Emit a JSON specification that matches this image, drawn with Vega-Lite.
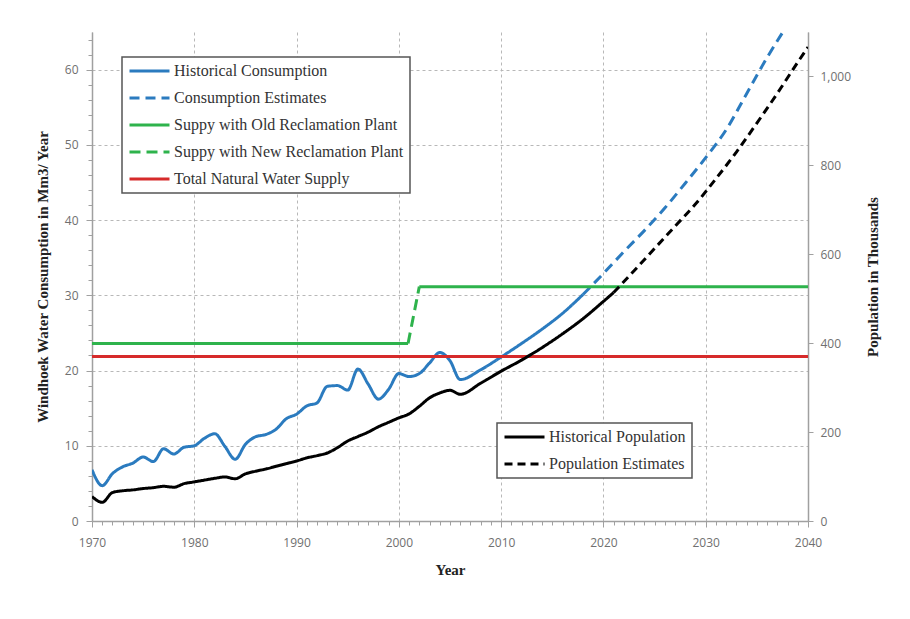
{
  "$schema": "https://vega.github.io/schema/vega-lite/v6.json",
  "autosize": {"type": "none"},
  "padding": {"left": 92, "top": 32, "right": 102, "bottom": 98},
  "width": 716,
  "height": 489,
  "background": "white",
  "config": {
    "view": {"stroke": null},
    "axis": {
      "labelFont": "Open Sans", "labelFontSize": 12, "labelColor": "#707070",
      "titleFont": "Liberation Serif", "titleFontSize": 15, "titleFontWeight": "bold", "titleColor": "#222222",
      "domainColor": "#a0a0a0", "domainWidth": 1.5, "tickColor": "#a0a0a0", "tickSize": 5,
      "gridColor": "#b8b8b8", "gridDash": [3, 3], "gridWidth": 1,
      "labelOverlap": false, "labelBound": false, "labelFlush": false
    },
    "legend": {
      "labelFont": "Liberation Serif", "labelFontSize": 16, "labelColor": "#333333", "labelLimit": 400,
      "symbolType": "stroke", "symbolSize": 1600, "symbolStrokeWidth": 3, "clipHeight": 16,
      "fillColor": "white", "strokeColor": "#555555", "strokeWidth": 1.5, "padding": 6,
      "rowPadding": 11, "labelOffset": 3, "orient": "none"
    }
  },
  "datasets": {
    "cons": [
      {"year": 1970, "value": 6.8, "series": "Historical Consumption", "seg": "h"},
      {"year": 1971, "value": 4.7, "series": "Historical Consumption", "seg": "h"},
      {"year": 1972, "value": 6.3, "series": "Historical Consumption", "seg": "h"},
      {"year": 1973, "value": 7.2, "series": "Historical Consumption", "seg": "h"},
      {"year": 1974, "value": 7.7, "series": "Historical Consumption", "seg": "h"},
      {"year": 1975, "value": 8.5, "series": "Historical Consumption", "seg": "h"},
      {"year": 1976, "value": 7.9, "series": "Historical Consumption", "seg": "h"},
      {"year": 1977, "value": 9.6, "series": "Historical Consumption", "seg": "h"},
      {"year": 1978, "value": 8.9, "series": "Historical Consumption", "seg": "h"},
      {"year": 1979, "value": 9.8, "series": "Historical Consumption", "seg": "h"},
      {"year": 1980, "value": 10.0, "series": "Historical Consumption", "seg": "h"},
      {"year": 1981, "value": 11.0, "series": "Historical Consumption", "seg": "h"},
      {"year": 1982, "value": 11.6, "series": "Historical Consumption", "seg": "h"},
      {"year": 1983, "value": 9.9, "series": "Historical Consumption", "seg": "h"},
      {"year": 1984, "value": 8.2, "series": "Historical Consumption", "seg": "h"},
      {"year": 1985, "value": 10.2, "series": "Historical Consumption", "seg": "h"},
      {"year": 1986, "value": 11.2, "series": "Historical Consumption", "seg": "h"},
      {"year": 1987, "value": 11.5, "series": "Historical Consumption", "seg": "h"},
      {"year": 1988, "value": 12.2, "series": "Historical Consumption", "seg": "h"},
      {"year": 1989, "value": 13.6, "series": "Historical Consumption", "seg": "h"},
      {"year": 1990, "value": 14.2, "series": "Historical Consumption", "seg": "h"},
      {"year": 1991, "value": 15.3, "series": "Historical Consumption", "seg": "h"},
      {"year": 1992, "value": 15.7, "series": "Historical Consumption", "seg": "h"},
      {"year": 1993, "value": 17.9, "series": "Historical Consumption", "seg": "h"},
      {"year": 1994, "value": 18.0, "series": "Historical Consumption", "seg": "h"},
      {"year": 1995, "value": 17.4, "series": "Historical Consumption", "seg": "h"},
      {"year": 1996, "value": 20.2, "series": "Historical Consumption", "seg": "h"},
      {"year": 1997, "value": 18.2, "series": "Historical Consumption", "seg": "h"},
      {"year": 1998, "value": 16.2, "series": "Historical Consumption", "seg": "h"},
      {"year": 1999, "value": 17.5, "series": "Historical Consumption", "seg": "h"},
      {"year": 2000, "value": 19.6, "series": "Historical Consumption", "seg": "h"},
      {"year": 2001, "value": 19.2, "series": "Historical Consumption", "seg": "h"},
      {"year": 2002, "value": 19.6, "series": "Historical Consumption", "seg": "h"},
      {"year": 2003, "value": 21.0, "series": "Historical Consumption", "seg": "h"},
      {"year": 2004, "value": 22.4, "series": "Historical Consumption", "seg": "h"},
      {"year": 2005, "value": 21.3, "series": "Historical Consumption", "seg": "h"},
      {"year": 2006, "value": 18.8, "series": "Historical Consumption", "seg": "h"},
      {"year": 2008, "value": 20.1, "series": "Historical Consumption", "seg": "h"},
      {"year": 2010, "value": 21.8, "series": "Historical Consumption", "seg": "h"},
      {"year": 2012, "value": 23.6, "series": "Historical Consumption", "seg": "h"},
      {"year": 2014, "value": 25.5, "series": "Historical Consumption", "seg": "h"},
      {"year": 2016, "value": 27.6, "series": "Historical Consumption", "seg": "h"},
      {"year": 2018, "value": 30.1, "series": "Historical Consumption", "seg": "h"},
      {"year": 2018, "value": 30.1, "series": "Consumption Estimates", "seg": "e"},
      {"year": 2020, "value": 32.9, "series": "Consumption Estimates", "seg": "e"},
      {"year": 2022, "value": 35.8, "series": "Consumption Estimates", "seg": "e"},
      {"year": 2024, "value": 38.6, "series": "Consumption Estimates", "seg": "e"},
      {"year": 2026, "value": 41.6, "series": "Consumption Estimates", "seg": "e"},
      {"year": 2028, "value": 44.9, "series": "Consumption Estimates", "seg": "e"},
      {"year": 2030, "value": 48.3, "series": "Consumption Estimates", "seg": "e"},
      {"year": 2032, "value": 52.0, "series": "Consumption Estimates", "seg": "e"},
      {"year": 2034, "value": 56.8, "series": "Consumption Estimates", "seg": "e"},
      {"year": 2036, "value": 61.6, "series": "Consumption Estimates", "seg": "e"},
      {"year": 2037.5, "value": 64.9, "series": "Consumption Estimates", "seg": "e"},
      {"year": 1970, "value": 23.6, "series": "Suppy with Old Reclamation Plant", "seg": "a"},
      {"year": 2000.9, "value": 23.6, "series": "Suppy with Old Reclamation Plant", "seg": "a"},
      {"year": 2002, "value": 31.15, "series": "Suppy with Old Reclamation Plant", "seg": "b"},
      {"year": 2040, "value": 31.15, "series": "Suppy with Old Reclamation Plant", "seg": "b"},
      {"year": 2000.9, "value": 23.6, "series": "Suppy with New Reclamation Plant", "seg": "n"},
      {"year": 2002, "value": 31.15, "series": "Suppy with New Reclamation Plant", "seg": "n"},
      {"year": 1970, "value": 21.85, "series": "Total Natural Water Supply", "seg": "t"},
      {"year": 2040, "value": 21.85, "series": "Total Natural Water Supply", "seg": "t"}
    ],
    "pop": [
      {"year": 1970, "pop": 55, "pseries": "Historical Population"},
      {"year": 1971, "pop": 42, "pseries": "Historical Population"},
      {"year": 1972, "pop": 64, "pseries": "Historical Population"},
      {"year": 1973, "pop": 68, "pseries": "Historical Population"},
      {"year": 1974, "pop": 70, "pseries": "Historical Population"},
      {"year": 1975, "pop": 73, "pseries": "Historical Population"},
      {"year": 1976, "pop": 75, "pseries": "Historical Population"},
      {"year": 1977, "pop": 78, "pseries": "Historical Population"},
      {"year": 1978, "pop": 76, "pseries": "Historical Population"},
      {"year": 1979, "pop": 84, "pseries": "Historical Population"},
      {"year": 1980, "pop": 88, "pseries": "Historical Population"},
      {"year": 1981, "pop": 92, "pseries": "Historical Population"},
      {"year": 1982, "pop": 96, "pseries": "Historical Population"},
      {"year": 1983, "pop": 99, "pseries": "Historical Population"},
      {"year": 1984, "pop": 95, "pseries": "Historical Population"},
      {"year": 1985, "pop": 106, "pseries": "Historical Population"},
      {"year": 1986, "pop": 112, "pseries": "Historical Population"},
      {"year": 1987, "pop": 117, "pseries": "Historical Population"},
      {"year": 1988, "pop": 123, "pseries": "Historical Population"},
      {"year": 1989, "pop": 129, "pseries": "Historical Population"},
      {"year": 1990, "pop": 135, "pseries": "Historical Population"},
      {"year": 1991, "pop": 142, "pseries": "Historical Population"},
      {"year": 1992, "pop": 147, "pseries": "Historical Population"},
      {"year": 1993, "pop": 153, "pseries": "Historical Population"},
      {"year": 1994, "pop": 165, "pseries": "Historical Population"},
      {"year": 1995, "pop": 180, "pseries": "Historical Population"},
      {"year": 1996, "pop": 190, "pseries": "Historical Population"},
      {"year": 1997, "pop": 200, "pseries": "Historical Population"},
      {"year": 1998, "pop": 212, "pseries": "Historical Population"},
      {"year": 1999, "pop": 222, "pseries": "Historical Population"},
      {"year": 2000, "pop": 232, "pseries": "Historical Population"},
      {"year": 2001, "pop": 241, "pseries": "Historical Population"},
      {"year": 2002, "pop": 258, "pseries": "Historical Population"},
      {"year": 2003, "pop": 277, "pseries": "Historical Population"},
      {"year": 2004, "pop": 288, "pseries": "Historical Population"},
      {"year": 2005, "pop": 294, "pseries": "Historical Population"},
      {"year": 2006, "pop": 285, "pseries": "Historical Population"},
      {"year": 2008, "pop": 310, "pseries": "Historical Population"},
      {"year": 2010, "pop": 337, "pseries": "Historical Population"},
      {"year": 2012, "pop": 362, "pseries": "Historical Population"},
      {"year": 2014, "pop": 390, "pseries": "Historical Population"},
      {"year": 2016, "pop": 421, "pseries": "Historical Population"},
      {"year": 2018, "pop": 455, "pseries": "Historical Population"},
      {"year": 2020, "pop": 494, "pseries": "Historical Population"},
      {"year": 2021, "pop": 514, "pseries": "Historical Population"},
      {"year": 2021, "pop": 514, "pseries": "Population Estimates"},
      {"year": 2023, "pop": 563, "pseries": "Population Estimates"},
      {"year": 2025, "pop": 613, "pseries": "Population Estimates"},
      {"year": 2027, "pop": 663, "pseries": "Population Estimates"},
      {"year": 2029, "pop": 713, "pseries": "Population Estimates"},
      {"year": 2031, "pop": 770, "pseries": "Population Estimates"},
      {"year": 2033, "pop": 830, "pseries": "Population Estimates"},
      {"year": 2035, "pop": 895, "pseries": "Population Estimates"},
      {"year": 2037, "pop": 962, "pseries": "Population Estimates"},
      {"year": 2039, "pop": 1032, "pseries": "Population Estimates"},
      {"year": 2040, "pop": 1066, "pseries": "Population Estimates"}
    ]
  },
  "layer": [
    {
      "data": {"name": "cons"},
      "mark": {"type": "line", "strokeWidth": 3, "interpolate": "monotone", "clip": true},
      "encoding": {
        "x": {
          "field": "year", "type": "quantitative",
          "scale": {"domain": [1970, 2040], "nice": false, "zero": false},
          "axis": {
            "values": [1970, 1971, 1972, 1973, 1974, 1975, 1976, 1977, 1978, 1979, 1980, 1981, 1982, 1983, 1984, 1985, 1986, 1987, 1988, 1989, 1990, 1991, 1992, 1993, 1994, 1995, 1996, 1997, 1998, 1999, 2000, 2001, 2002, 2003, 2004, 2005, 2006, 2007, 2008, 2009, 2010, 2011, 2012, 2013, 2014, 2015, 2016, 2017, 2018, 2019, 2020, 2021, 2022, 2023, 2024, 2025, 2026, 2027, 2028, 2029, 2030, 2031, 2032, 2033, 2034, 2035, 2036, 2037, 2038, 2039, 2040],
            "tickCount": 200,
            "labelExpr": "datum.value % 10 === 0 ? format(datum.value, 'd') : ''",
            "tickSize": {"condition": {"test": "datum.value % 10 === 0", "value": 6}, "value": 4},
            "gridOpacity": {"condition": {"test": "datum.value % 10 === 0", "value": 1}, "value": 0},
            "title": "Year", "labelPadding": 10, "titlePadding": 14, "grid": true
          }
        },
        "y": {
          "field": "value", "type": "quantitative",
          "scale": {"domain": [0, 65], "nice": false},
          "axis": {
            "values": [0, 2, 4, 6, 8, 10, 12, 14, 16, 18, 20, 22, 24, 26, 28, 30, 32, 34, 36, 38, 40, 42, 44, 46, 48, 50, 52, 54, 56, 58, 60, 62, 64],
            "tickCount": 200,
            "labelExpr": "datum.value % 10 === 0 ? format(datum.value, 'd') : ''",
            "tickSize": {"condition": {"test": "datum.value % 10 === 0", "value": 6}, "value": 4},
            "gridOpacity": {"condition": {"test": "datum.value % 10 === 0 && datum.value > 0", "value": 1}, "value": 0},
            "title": "Windhoek Water Consumption in Mm3/ Year", "labelPadding": 8, "titlePadding": 14, "grid": true
          }
        },
        "color": {
          "field": "series", "type": "nominal",
          "scale": {
            "domain": ["Historical Consumption", "Consumption Estimates", "Suppy with Old Reclamation Plant", "Suppy with New Reclamation Plant", "Total Natural Water Supply"],
            "range": ["#2b7bbf", "#2b7bbf", "#2eb34c", "#2eb34c", "#d62a2a"]
          },
          "legend": {"title": null, "legendX": 30, "legendY": 25}
        },
        "strokeDash": {
          "field": "series", "type": "nominal",
          "scale": {
            "domain": ["Historical Consumption", "Consumption Estimates", "Suppy with Old Reclamation Plant", "Suppy with New Reclamation Plant", "Total Natural Water Supply"],
            "range": [[1, 0], [10, 6], [1, 0], [11, 6], [1, 0]]
          },
          "legend": {"title": null, "legendX": 30, "legendY": 25}
        },
        "detail": {"field": "seg"}
      }
    },
    {
      "data": {"name": "pop"},
      "mark": {"type": "line", "strokeWidth": 3, "interpolate": "monotone", "clip": true},
      "encoding": {
        "x": {"field": "year", "type": "quantitative"},
        "y": {
          "field": "pop", "type": "quantitative",
          "scale": {"domain": [0, 1100], "nice": false},
          "axis": {"orient": "right", "values": [0, 200, 400, 600, 800, 1000], "format": ",d", "title": "Population in Thousands", "titleAngle": 270, "labelPadding": 7, "titlePadding": 30, "grid": false}
        },
        "color": {
          "field": "pseries", "type": "nominal",
          "scale": {"domain": ["Historical Population", "Population Estimates"], "range": ["#000000", "#000000"]},
          "legend": {"title": null, "legendX": 405, "legendY": 391}
        },
        "strokeDash": {
          "field": "pseries", "type": "nominal",
          "scale": {"domain": ["Historical Population", "Population Estimates"], "range": [[1, 0], [8, 5]]},
          "legend": {"title": null, "legendX": 405, "legendY": 391}
        }
      }
    }
  ],
  "resolve": {"scale": {"y": "independent", "color": "independent", "strokeDash": "independent"}}
}
